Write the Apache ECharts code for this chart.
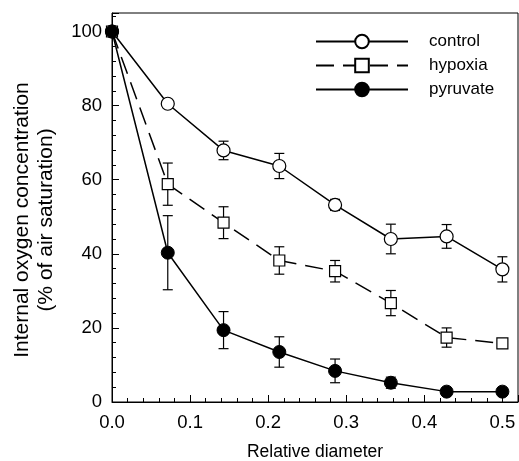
<!DOCTYPE html>
<html><head><meta charset="utf-8">
<script src="https://cdn.jsdelivr.net/npm/echarts@6/dist/echarts.min.js"></script>
<style>html,body{margin:0;padding:0;background:#fff}#c{width:519px;height:461px}</style>
</head><body><div id="c"></div>
<script>
var xValues = [0, 1/14, 2/14, 3/14, 4/14, 5/14, 6/14, 7/14];
var controlMean = [100, 80.5, 67.9, 63.7, 53.2, 44.0, 44.7, 35.8];
var controlErr  = [0, 0, 2.5, 3.4, 1.5, 4.0, 3.2, 3.4];
var hypoxiaMean = [100, 58.8, 48.4, 38.2, 35.3, 26.7, 17.4, 15.8];
var hypoxiaErr  = [0, 5.7, 4.3, 3.7, 2.9, 3.4, 2.6, 0];
var pyruvateMean = [100, 40.3, 19.4, 13.5, 8.4, 5.2, 2.8, 2.8];
var pyruvateErr  = [0, 10.0, 5.0, 4.1, 3.2, 1.5, 0, 0];
var seriesNames = ['control', 'hypoxia', 'pyruvate'];
var xTitle = 'Relative diameter';
var yTitle1 = 'Internal oxygen concentration';
var yTitle2 = '(% of air saturation)';

var FONT = 'Liberation Sans, Arial, sans-serif';
function pairs(m){ return xValues.map(function(x,i){ return [x, m[i]]; }); }
function errData(m,e){ return xValues.map(function(x,i){ return [x, m[i]-e[i], m[i]+e[i]]; }); }
function errSeries(m,e){
  return {
    type:'custom', z:1, silent:true,
    data: errData(m,e),
    renderItem: function(params, api){
      var x = api.value(0);
      var lo = api.coord([x, api.value(1)]);
      var hi = api.coord([x, api.value(2)]);
      if (Math.abs(hi[1]-lo[1]) < 1) return null;
      var w = 5;
      var st = {stroke:'#000', lineWidth:1.2};
      return {type:'group', children:[
        {type:'line', shape:{x1:lo[0],y1:lo[1],x2:hi[0],y2:hi[1]}, style:st},
        {type:'line', shape:{x1:lo[0]-w,y1:lo[1],x2:lo[0]+w,y2:lo[1]}, style:st},
        {type:'line', shape:{x1:hi[0]-w,y1:hi[1],x2:hi[0]+w,y2:hi[1]}, style:st}
      ]};
    }
  };
}

var chart = echarts.init(document.getElementById('c'));
chart.setOption({
  animation:false,
  backgroundColor:'#fff',
  grid:{left:112, right:1, top:13, bottom:59, show:true, borderColor:'#000', borderWidth:1,
        containLabel:false, outerBoundsMode:'none'},
  legend:{
    orient:'vertical', left:315, top:33, padding:0,
    itemWidth:92, itemHeight:17, itemGap:7,
    data:seriesNames,
    textStyle:{fontFamily:FONT, fontSize:17, color:'#000', padding:[0,0,0,16]}
  },
  xAxis:{
    type:'value', min:0, max:0.52, interval:0.1,
    axisLine:{lineStyle:{color:'#000', width:1}},
    axisTick:{inside:true, length:7, lineStyle:{color:'#000'}},
    minorTick:{show:true, splitNumber:5, length:4, lineStyle:{color:'#000'}},
    splitLine:{show:false},
    axisLabel:{fontFamily:FONT, fontSize:18.5, color:'#000', margin:11, showMaxLabel:false,
      formatter:function(v){ return v.toFixed(1); }},
    name:xTitle, nameLocation:'middle', nameGap:41,
    nameTextStyle:{fontFamily:FONT, fontSize:17.5, color:'#000'}
  },
  yAxis:{
    type:'value', min:0, max:105, interval:20,
    axisLine:{lineStyle:{color:'#000', width:1}},
    axisTick:{inside:true, length:7, lineStyle:{color:'#000'}},
    minorTick:{show:true, splitNumber:5, length:4, lineStyle:{color:'#000'}},
    splitLine:{show:false},
    axisLabel:{fontFamily:FONT, fontSize:18.5, color:'#000', margin:10, showMaxLabel:false}
  },
  graphic:[
    {type:'text', rotation:Math.PI/2, x:22, y:220,
     style:{text:yTitle1, font:'21px '+FONT, fill:'#000', textAlign:'center', textVerticalAlign:'middle'}},
    {type:'text', rotation:Math.PI/2, x:46, y:220,
     style:{text:yTitle2, font:'21px '+FONT, fill:'#000', textAlign:'center', textVerticalAlign:'middle'}}
  ],
  series:[
    errSeries(controlMean, controlErr),
    errSeries(hypoxiaMean, hypoxiaErr),
    errSeries(pyruvateMean, pyruvateErr),
    {name:seriesNames[0], type:'line', z:3, data:pairs(controlMean), symbol:'circle', symbolSize:13,
     lineStyle:{color:'#000', width:1.5}, itemStyle:{color:'#fff', borderColor:'#000', borderWidth:1.2}},
    {name:seriesNames[1], type:'line', z:3, data:pairs(hypoxiaMean), symbol:'rect', symbolSize:11,
     lineStyle:{color:'#000', width:1.5, type:[18,9]}, itemStyle:{color:'#fff', borderColor:'#000', borderWidth:1.2}},
    {name:seriesNames[2], type:'line', z:4, data:pairs(pyruvateMean), symbol:'circle', symbolSize:13,
     lineStyle:{color:'#000', width:1.5}, itemStyle:{color:'#000', borderColor:'#000', borderWidth:1}}
  ]
});
</script></body></html>
